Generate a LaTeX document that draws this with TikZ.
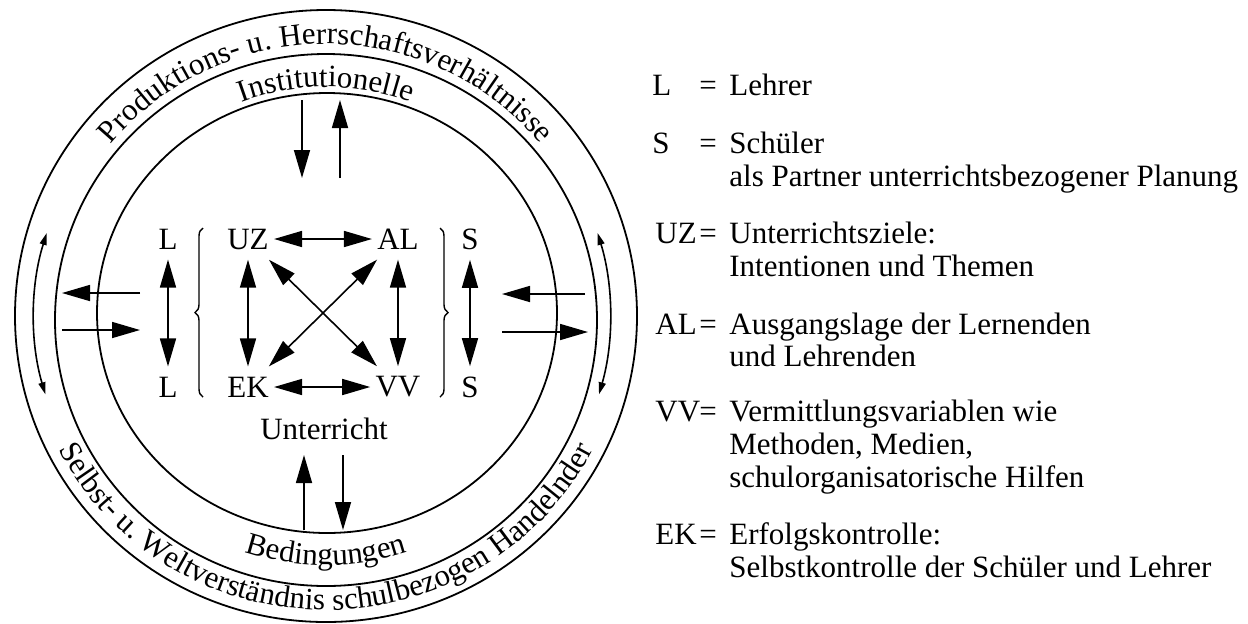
\documentclass[tikz,border=0pt]{standalone}
\usepackage{fontspec}
\setmainfont{Liberation Serif}
\usetikzlibrary{arrows.meta, positioning, decorations.text, decorations.pathreplacing}

\newcommand{\ringfont}{\fontsize{15.5}{16}\selectfont}
\tikzset{
  ring/.style = {line width = 0.9pt},
  big/.style = {line width = 0.8pt, -{Triangle[length = 14pt, width = 8pt]}},
  dbl/.style = {line width = 0.8pt,
    {Triangle[length = 14pt, width = 8pt]}-{Triangle[length = 14pt, width = 8pt]}},
  small/.style = {line width = 0.8pt,
    {Triangle[length = 6pt, width = 3.5pt]}-{Triangle[length = 6pt, width = 3.5pt]}},
  lbl/.style = {inner xsep = 2.5pt, inner ysep = 5pt, font = \ringfont},
  key/.style = {anchor = base west, inner sep = 0pt, font = \ringfont},
  ringtext/.style = {decorate, decoration = {text along path, text align = center,
    text = {|\ringfont|#1}}}
}

\begin{document}
\begin{tikzpicture}[x = 0.5pt, y = 0.5pt, node distance = 0]
  \useasboundingbox (0, 0) rectangle (1248, -623);

  % rings
  \draw [ring] (326, -316) ellipse [x radius = 311, y radius = 306];
  \draw [ring] (326, -320) ellipse [x radius = 271, y radius = 266];
  \draw [ring] (327, -313) ellipse [x radius = 230, y radius = 220];

  % ring texts
  \path [ringtext = {Produktions- u. Herrschaftsverhältnisse}, shift = {(326, -316)}]
    (165:277 and 272) arc [start angle = 165, end angle = 15, x radius = 277, y radius = 272];
  \path [ringtext = {Institutionelle}, shift = {(326, -316)}]
    (150:236 and 229) arc [start angle = 150, end angle = 30, x radius = 236, y radius = 229];
  \path [ringtext = {Bedingungen}, shift = {(326, -316)}]
    (230:255 and 249) arc [start angle = 230, end angle = 310, x radius = 255, y radius = 249];
  \path [ringtext = {Selbst- u. Weltverständnis schulbezogen Handelnder}, shift = {(326, -316)}]
    (190:300 and 294) arc [start angle = 190, end angle = 350, x radius = 300, y radius = 294];

  % arcs in the outer ring
  \draw [small, shift = {(326, -316)}]
    (163:292 and 284) arc [start angle = 163, end angle = 196, x radius = 292, y radius = 284];
  \draw [small, shift = {(326, -316)}]
    (17:284 and 284) arc [start angle = 17, end angle = -16, x radius = 284, y radius = 284];

  % top row
  \node [lbl] (UZ) at (248, -239) {UZ};
  \node [lbl, right of = UZ, xshift = 75pt] (AL) {AL};
  \node [lbl, left of = UZ, xshift = -40pt] (L-top) {L};
  \node [lbl, right of = AL, xshift = 36pt] (S-top) {S};
  % bottom row
  \node [lbl, below of = UZ, yshift = -74pt] (EK) {EK};
  \node [lbl, below of = AL, yshift = -74pt] (VV) {VV};
  \node [lbl, below of = L-top, yshift = -74pt] (L-bot) {L};
  \node [lbl, below of = S-top, yshift = -74pt] (S-bot) {S};
  \node [lbl] (unterricht) at (324, -429) {Unterricht};

  \draw [dbl] (UZ) -- (AL);
  \draw [dbl] (EK) -- (VV);
  \draw [dbl] (UZ) -- (EK);
  \draw [dbl] (AL) -- (VV);
  \draw [dbl] (UZ) -- (VV);
  \draw [dbl] (AL) -- (EK);
  \draw [dbl] (L-top) -- (L-bot);
  \draw [dbl] (S-top) -- (S-bot);

  % braces
  \coordinate (brace-l-a) at (203, -397);
  \coordinate (brace-l-b) at (203, -228);
  \coordinate (brace-r-a) at (440, -228);
  \coordinate (brace-r-b) at (440, -397);
  \draw [line width = 0.7pt, decorate, decoration = {brace, amplitude = 4pt}]
    (brace-l-a) -- (brace-l-b);
  \draw [line width = 0.7pt, decorate, decoration = {brace, amplitude = 4pt}]
    (brace-r-a) -- (brace-r-b);

  % arrows from and to the rings
  \coordinate (top-a1) at (302, -100);
  \coordinate (top-a2) at (302, -178);
  \coordinate (top-b1) at (340, -178);
  \coordinate (top-b2) at (340, -100);
  \coordinate (bot-a1) at (304, -530);
  \coordinate (bot-a2) at (304, -455);
  \coordinate (bot-b1) at (343, -455);
  \coordinate (bot-b2) at (343, -530);
  \coordinate (left-a1) at (140, -293);
  \coordinate (left-a2) at (62, -293);
  \coordinate (left-b1) at (62, -330);
  \coordinate (left-b2) at (140, -330);
  \coordinate (right-a1) at (585, -294);
  \coordinate (right-a2) at (502, -294);
  \coordinate (right-b1) at (502, -332);
  \coordinate (right-b2) at (588, -332);
  \draw [big] (top-a1) -- (top-a2);
  \draw [big] (top-b1) -- (top-b2);
  \draw [big] (bot-a1) -- (bot-a2);
  \draw [big] (bot-b1) -- (bot-b2);
  \draw [big] (left-a1) -- (left-a2);
  \draw [big] (left-b1) -- (left-b2);
  \draw [big] (right-a1) -- (right-a2);
  \draw [big] (right-b1) -- (right-b2);

  % legend
  \node [key] (key-L) at (652, -95) {L};
  \node [key] (eq-L) at (699, -95) {=};
  \node [key] (txt-L) at (729, -95) {Lehrer};
  \node [key] (key-S) at (652, -153) {S};
  \node [key] (eq-S) at (699, -153) {=};
  \node [key] (txt-S1) at (729, -153) {Schüler};
  \node [key] (txt-S2) at (729, -186) {als Partner unterrichtsbezogener Planung};
  \node [key] (key-UZ) at (655, -243) {UZ};
  \node [key] (eq-UZ) at (699, -243) {=};
  \node [key] (txt-UZ1) at (729, -243) {Unterrichtsziele:};
  \node [key] (txt-UZ2) at (729, -276) {Intentionen und Themen};
  \node [key] (key-AL) at (655, -334) {AL};
  \node [key] (eq-AL) at (699, -334) {=};
  \node [key] (txt-AL1) at (729, -334) {Ausgangslage der Lernenden};
  \node [key] (txt-AL2) at (729, -366) {und Lehrenden};
  \node [key] (key-VV) at (655, -421) {VV};
  \node [key] (eq-VV) at (699, -421) {=};
  \node [key] (txt-VV1) at (729, -421) {Vermittlungsvariablen wie};
  \node [key] (txt-VV2) at (729, -454) {Methoden, Medien,};
  \node [key] (txt-VV3) at (729, -487) {schulorganisatorische Hilfen};
  \node [key] (key-EK) at (655, -544) {EK};
  \node [key] (eq-EK) at (699, -544) {=};
  \node [key] (txt-EK1) at (729, -544) {Erfolgskontrolle:};
  \node [key] (txt-EK2) at (729, -577) {Selbstkontrolle der Schüler und Lehrer};
\end{tikzpicture}
\end{document}
